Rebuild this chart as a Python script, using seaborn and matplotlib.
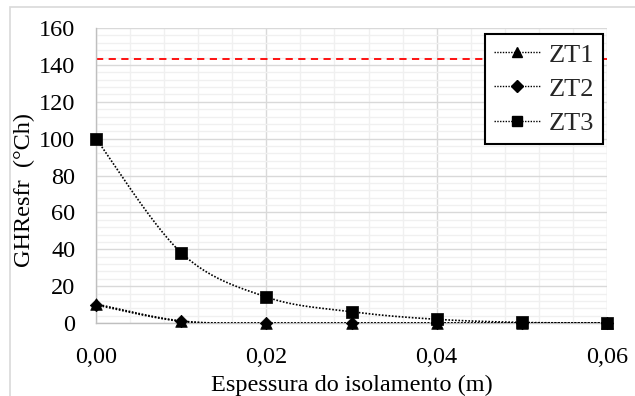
import numpy as np
import pandas as pd
import matplotlib
matplotlib.use("Agg")
import matplotlib.pyplot as plt
import seaborn as sns
from matplotlib.lines import Line2D
from matplotlib.patches import Rectangle

# ---- data ----
espessura = [0.00, 0.01, 0.02, 0.03, 0.04, 0.05, 0.06]
zt1 = [10.3, 1.1, 0.0, 0.0, 0.0, 0.0, 0.0]
zt2 = [9.8, 0.9, 0.0, 0.0, 0.0, 0.0, 0.0]
zt3 = [100.0, 38.1, 14.1, 6.1, 2.0, 0.3, 0.0]
limite = 143.0
series_names = ["ZT1", "ZT2", "ZT3"]
series_markers = ["^", "D", "s"]
x_ticks = [0.00, 0.02, 0.04, 0.06]
x_ticklabels = ["0,00", "0,02", "0,04", "0,06"]
y_ticks = [0, 20, 40, 60, 80, 100, 120, 140, 160]


def smooth(xs, ys, n=40):
    """Excel-like smoothed line (Catmull-Rom cubic Bezier segments)."""
    P = np.column_stack([xs, ys]).astype(float)
    out = []
    for i in range(len(P) - 1):
        p0 = P[i - 1] if i > 0 else P[i]
        p1 = P[i]
        p2 = P[i + 1]
        p3 = P[i + 2] if i + 2 < len(P) else P[i + 1]
        c1 = p1 + (p2 - p0) / 6.0
        c2 = p2 - (p3 - p1) / 6.0
        t = np.linspace(0, 1, n)[:, None]
        seg = ((1 - t) ** 3) * p1 + 3 * ((1 - t) ** 2) * t * c1 + 3 * (1 - t) * t ** 2 * c2 + t ** 3 * p2
        out.append(seg if i == 0 else seg[1:])
    return np.vstack(out)


sns.set_theme(style="white")
plt.rcParams["font.family"] = ["Liberation Serif", "DejaVu Serif"]

fig = plt.figure(figsize=(6.35, 3.96), dpi=100)
ax = fig.add_axes([96 / 635, (396 - 323) / 396, (607 - 96) / 635, (323 - 28) / 396])

# figure border
fig.patches.append(Rectangle((10 / 635, -0.1), 1.2, (396 - 7) / 396 + 0.1,
                             transform=fig.transFigure, fill=False,
                             edgecolor="#d9d9d9", linewidth=1.2))

ax.set_xlim(0, 0.06)
ax.set_ylim(0, 160)

# grid
ax.set_xticks(np.arange(0, 0.0601, 0.004), minor=True)
ax.set_yticks(np.arange(0, 160.1, 4), minor=True)
ax.grid(True, which="minor", color="#f0f0f0", linewidth=1.0, zorder=0)
ax.grid(True, which="major", color="#d9d9d9", linewidth=1.0, zorder=0)
ax.set_axisbelow(True)

# red dashed limit line
ax.axhline(limite, color="#ff0000", linestyle=(0, (4, 3)), linewidth=1.3, zorder=2)

for name, vals, mk in zip(series_names, [zt1, zt2, zt3], series_markers):
    curve = smooth(espessura, vals)
    dfc = pd.DataFrame({"x": curve[:, 0], "y": curve[:, 1]})
    sns.lineplot(data=dfc, x="x", y="y", ax=ax, sort=False, estimator=None,
                 color="black", linestyle=(0, (1, 1)), linewidth=1.2, zorder=3)
    dfp = pd.DataFrame({"x": espessura, "y": vals})
    sns.scatterplot(data=dfp, x="x", y="y", ax=ax, marker=mk, color="black",
                    s=70 if mk != "D" else 40, edgecolor="black", linewidth=0.5,
                    zorder=4, clip_on=False)

for sp in ["top", "right"]:
    ax.spines[sp].set_visible(False)
for sp in ["left", "bottom"]:
    ax.spines[sp].set_color("#bfbfbf")
    ax.spines[sp].set_linewidth(1.0)

ax.set_xticks(x_ticks)
ax.set_xticklabels(x_ticklabels)
ax.set_yticks(y_ticks)
ax.tick_params(axis="both", which="major", direction="out", length=5, width=1,
               color="#bfbfbf", labelsize=17.5, labelcolor="#000000")
ax.tick_params(axis="y", which="major", pad=10)
ax.tick_params(axis="x", which="major", pad=12)
ax.tick_params(axis="both", which="minor", length=0)

ax.set_xlabel("Espessura do isolamento (m)", fontsize=17.5, color="black", labelpad=5)
ax.set_ylabel("GHResfr  (°Ch)", fontsize=17.5, color="black")
ax.yaxis.set_label_coords(-0.12, 0.45)

handles = [Line2D([0], [0], color="black", linestyle=(0, (1, 1)), linewidth=1.0,
                  marker=mk, markersize=7.5 if mk != "D" else 6, markerfacecolor="black",
                  markeredgecolor="black")
           for mk in series_markers]
leg = ax.legend(handles, series_names, loc="upper right",
                bbox_to_anchor=(603 / 635, (396 - 34) / 396),
                bbox_transform=fig.transFigure, frameon=True, fancybox=False, fontsize=19,
                handlelength=1.75, handletextpad=0.3, borderpad=0.35, labelspacing=0.4,
                borderaxespad=0)
leg.get_frame().set_edgecolor("black")
leg.get_frame().set_linewidth(1.5)
leg.get_frame().set_alpha(1)
leg.set_zorder(10)

fig.savefig("out.png", dpi=100)
